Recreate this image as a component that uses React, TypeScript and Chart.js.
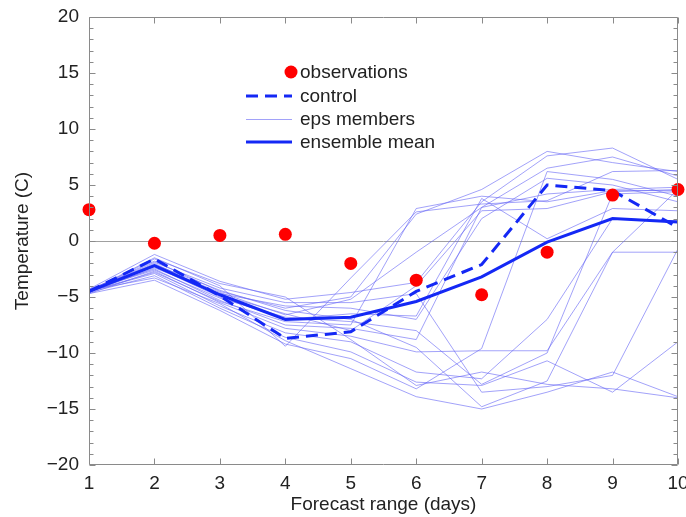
import React, { useEffect, useRef } from "react";
import { Chart, registerables } from "chart.js";

Chart.register(...registerables);

const days = [1, 2, 3, 4, 5, 6, 7, 8, 9, 10];
const observations = [2.8, -0.2, 0.5, 0.6, -2.0, -3.5, -4.8, -1.0, 4.1, 4.6];
const control = [-4.5, -1.6, -4.9, -8.7, -8.1, -4.5, -2.1, 5.0, 4.5, 1.2];
const ensembleMean = [-4.5, -2.2, -4.8, -7.0, -6.8, -5.4, -3.2, -0.1, 2.0, 1.7];

const m01 = [-4.3, -1.2, -3.6, -5.2, -4.6, -3.7, 3.5, 7.6, 8.3, 5.5];
const m02 = [-4.5, -1.5, -4.0, -9.4, -3.3, 2.6, 3.3, 3.6, 6.2, 6.3];
const m03 = [-4.4, -1.8, -4.5, -6.0, -5.0, 2.4, 4.6, 8.0, 7.0, 6.2];
const m04 = [-4.6, -2.0, -4.8, -6.5, -8.0, -4.0, 2.7, 2.9, 4.4, 4.6];
const m05 = [-4.5, -2.3, -5.0, -7.0, -6.5, -6.7, 3.8, 0.2, 2.9, 2.7];
const m06 = [-4.4, -2.5, -5.3, -7.5, -7.8, -8.8, 3.0, 4.2, 4.6, 4.8];
const m07 = [-4.7, -2.7, -5.5, -7.8, -8.5, -9.9, -9.8, -9.8, -1.0, -1.0];
const m08 = [-4.5, -2.9, -5.8, -8.2, -9.0, -11.7, -12.3, -7.0, 2.0, 1.8];
const m09 = [-4.6, -3.1, -6.0, -8.6, -9.9, -12.6, -12.9, -10.7, -13.5, -9.0];
const m10 = [-4.4, -3.3, -5.6, -8.9, -11.4, -13.9, -15.0, -13.5, -11.7, -13.9];
const m11 = [-4.5, -1.9, -4.2, -5.5, -5.5, -4.7, -13.5, -13.0, -12.0, -0.7];
const m12 = [-4.3, -2.1, -4.4, -6.2, -7.0, -9.5, -14.8, -12.5, -1.0, 4.6];
const m13 = [-4.6, -2.4, -4.7, -5.8, -6.0, -7.0, 2.0, 5.6, 5.0, 3.5];
const m14 = [-4.5, -1.6, -3.8, -5.0, -8.8, -12.9, -11.7, -12.8, -13.2, -14.0];
const m15 = [-4.4, -2.6, -5.1, -6.8, -7.2, -8.0, -12.8, -10.0, 4.2, 4.4];
const m16 = [-4.7, -3.5, -6.2, -9.2, -10.5, -13.2, -9.6, 6.2, 5.5, 4.0];
const m17 = [-4.5, -2.8, -5.4, -7.2, -7.5, 2.9, 4.0, 3.5, 4.5, 4.5];
const m18 = [-4.4, -2.2, -4.6, -6.6, -5.2, -1.0, 3.0, 6.5, 7.5, 5.8];
const members = [m01, m02, m03, m04, m05, m06, m07, m08, m09, m10, m11, m12, m13, m14, m15, m16, m17, m18];

const yTicks = [-20, -15, -10, -5, 0, 5, 10, 15, 20];
const legendLabels = ["observations", "control", "eps members", "ensemble mean"];

const FONT = "'Liberation Sans', Arial, Helvetica, sans-serif";
const FONT_SIZE = 19;
const TEXT = "#222222";
const AXIS = "#8a8a8a";
const MEMBER_COLOR = "rgba(100, 100, 245, 0.6)";
const MAIN_BLUE = "#1428f5";

const toXY = (arr: number[]) => arr.map((v, i) => ({ x: days[i], y: v }));

const framePlugin = {
  id: "frame",
  beforeDatasetsDraw(chart: any) {
    const { ctx, chartArea, scales } = chart;
    const { left, right } = chartArea;
    const ys = scales.y;
    ctx.save();
    ctx.strokeStyle = "#a0a0a0";
    ctx.lineWidth = 1;
    const y0 = Math.round(ys.getPixelForValue(0)) + 0.5;
    ctx.beginPath();
    ctx.moveTo(left, y0);
    ctx.lineTo(right, y0);
    ctx.stroke();
    ctx.restore();
  },
  afterDatasetsDraw(chart: any) {
    const { ctx, chartArea, scales } = chart;
    const { left, right, top, bottom } = chartArea;
    const xs = scales.x;
    const ys = scales.y;
    ctx.save();
    ctx.strokeStyle = AXIS;
    ctx.lineWidth = 1;
    const L = Math.round(left) + 0.5;
    const R = Math.round(right) - 0.5;
    const T = Math.round(top) + 0.5;
    const B = Math.round(bottom) - 0.5;
    ctx.beginPath();
    ctx.moveTo(L, T);
    ctx.lineTo(R, T);
    ctx.lineTo(R, B);
    ctx.lineTo(L, B);
    ctx.closePath();
    ctx.stroke();
    ctx.beginPath();
    for (const d of days) {
      const px = Math.round(xs.getPixelForValue(d)) + 0.5;
      ctx.moveTo(px, B);
      ctx.lineTo(px, B - 6);
      ctx.moveTo(px, T);
      ctx.lineTo(px, T + 6);
    }
    for (let v = -20; v <= 20; v++) {
      const py = Math.round(ys.getPixelForValue(v)) + 0.5;
      const len = v % 5 === 0 ? 6 : 4;
      ctx.moveTo(L, py);
      ctx.lineTo(L + len, py);
      ctx.moveTo(R, py);
      ctx.lineTo(R - len, py);
    }
    ctx.stroke();
    ctx.restore();

    // legend
    ctx.save();
    ctx.font = `${FONT_SIZE}px ${FONT}`;
    ctx.textBaseline = "middle";
    ctx.textAlign = "left";
    const lx0 = 246;
    const lx1 = 292;
    const tx = 300;
    const rows = [72, 96, 119, 142];
    ctx.fillStyle = "#ff0000";
    ctx.beginPath();
    ctx.arc(291, rows[0], 6.5, 0, Math.PI * 2);
    ctx.fill();
    ctx.strokeStyle = MAIN_BLUE;
    ctx.lineWidth = 3;
    ctx.setLineDash([12, 7]);
    ctx.beginPath();
    ctx.moveTo(lx0, rows[1]);
    ctx.lineTo(lx1, rows[1]);
    ctx.stroke();
    ctx.setLineDash([]);
    ctx.strokeStyle = MEMBER_COLOR;
    ctx.lineWidth = 1;
    ctx.beginPath();
    ctx.moveTo(lx0, rows[2] + 0.5);
    ctx.lineTo(lx1, rows[2] + 0.5);
    ctx.stroke();
    ctx.strokeStyle = MAIN_BLUE;
    ctx.lineWidth = 3;
    ctx.beginPath();
    ctx.moveTo(lx0, rows[3]);
    ctx.lineTo(lx1, rows[3]);
    ctx.stroke();
    ctx.fillStyle = TEXT;
    legendLabels.forEach((lab, i) => ctx.fillText(lab, tx, rows[i] + 1));
    ctx.restore();
  },
};

export default function App() {
  const canvasRef = useRef<HTMLCanvasElement | null>(null);

  useEffect(() => {
    document.body.style.margin = "0";
    const canvas = canvasRef.current;
    if (!canvas) return;

    const datasets: any[] = [];
    datasets.push({
      label: "observations",
      data: toXY(observations),
      showLine: false,
      pointRadius: 6.5,
      pointBackgroundColor: "#ff0000",
      pointBorderWidth: 0,
      clip: false,
      order: 0,
    });
    datasets.push({
      label: "ensemble mean",
      data: toXY(ensembleMean),
      showLine: true,
      borderColor: MAIN_BLUE,
      borderWidth: 3,
      pointRadius: 0,
      order: 1,
    });
    datasets.push({
      label: "control",
      data: toXY(control),
      showLine: true,
      borderColor: MAIN_BLUE,
      borderWidth: 3,
      borderDash: [12, 7],
      pointRadius: 0,
      order: 2,
    });
    members.forEach((m, i) => {
      datasets.push({
        label: i === 0 ? "eps members" : `eps member ${i + 1}`,
        data: toXY(m),
        showLine: true,
        borderColor: MEMBER_COLOR,
        borderWidth: 1,
        pointRadius: 0,
        order: 3,
      });
    });

    const chart = new Chart(canvas, {
      type: "scatter",
      data: { datasets },
      plugins: [framePlugin],
      options: {
        animation: false,
        responsive: false,
        maintainAspectRatio: false,
        layout: { padding: { top: 17, right: 8, left: 0, bottom: 0 } },
        plugins: {
          legend: { display: false },
          tooltip: { enabled: false },
        },
        scales: {
          x: {
            type: "linear",
            min: 1,
            max: 10,
            grid: { display: false, drawTicks: false },
            border: { display: false },
            afterBuildTicks: (scale: any) => {
              scale.ticks = days.map((d) => ({ value: d }));
            },
            afterFit: (scale: any) => {
              scale.height = 52;
              scale.paddingLeft = 0;
              scale.paddingRight = 0;
            },
            ticks: {
              color: TEXT,
              font: { family: FONT, size: FONT_SIZE },
              padding: 7,
              maxRotation: 0,
              autoSkip: false,
            },
            title: {
              display: true,
              text: "Forecast range (days)",
              color: TEXT,
              font: { family: FONT, size: FONT_SIZE },
              padding: { top: 0, bottom: 1 },
            },
          },
          y: {
            type: "linear",
            min: -20,
            max: 20,
            grid: { display: false, drawTicks: false },
            border: { display: false },
            afterBuildTicks: (scale: any) => {
              scale.ticks = yTicks.map((v) => ({ value: v }));
            },
            afterFit: (scale: any) => {
              scale.width = 89;
              scale.paddingTop = 0;
              scale.paddingBottom = 0;
            },
            ticks: {
              color: TEXT,
              font: { family: FONT, size: FONT_SIZE },
              padding: 10,
              callback: (v: any) => (Number(v) < 0 ? "\u2212" + Math.abs(Number(v)) : String(v)),
            },
            title: {
              display: true,
              text: "Temperature (C)",
              color: TEXT,
              font: { family: FONT, size: FONT_SIZE },
              padding: { top: 11, bottom: 0 },
            },
          },
        },
      },
    });

    return () => chart.destroy();
  }, []);

  return (
    <div style={{ width: 686, height: 517 }}>
      <canvas ref={canvasRef} width={686} height={517} style={{ display: "block" }} />
    </div>
  );
}
